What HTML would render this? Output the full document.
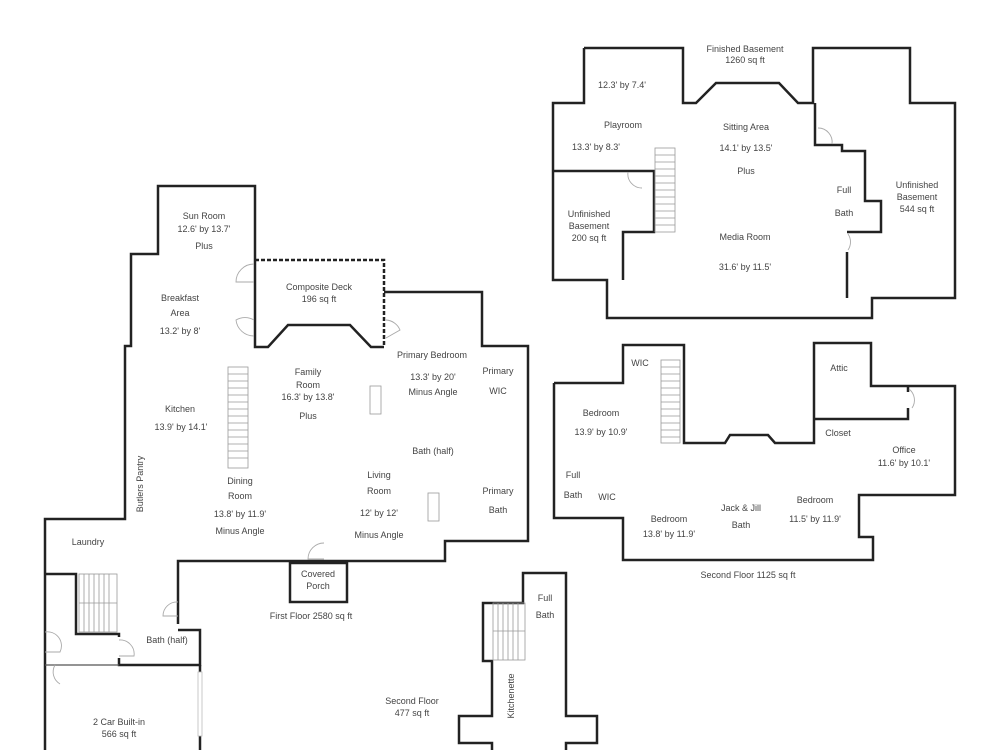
<!DOCTYPE html>
<html><head><meta charset="utf-8"><style>
html,body{margin:0;padding:0;background:#fff;}
svg{display:block;}
text{font-family:"Liberation Sans",sans-serif;font-size:9px;fill:#444;text-anchor:middle;}
.w{fill:none;stroke:#222;stroke-width:2.5;stroke-linejoin:miter;}
.t{fill:none;stroke:#999;stroke-width:0.8;}
.d{fill:none;stroke:#aaa;stroke-width:0.9;}
</style></head><body>
<svg width="1000" height="750" viewBox="0 0 1000 750" xmlns="http://www.w3.org/2000/svg">
<!-- Basement -->
<polyline class="w" points="584,48 683,48 683,103 696,103 716,83 779,83 798,103 813,103 813,48 910,48 910,103 955,103 955,298 872,298 872,318 607,318 607,280 553,280 553,103 584,103 584,48"/>
<polyline class="w" points="553,171 654,171 654,232 623,232 623,280"/>
<polyline class="w" points="815,103 815,145 842,145 842,151 865,151 865,201 881,201 881,232 847,232"/>
<polyline class="w" points="847,252 847,298"/>
<g class="t"><rect x="655" y="148" width="20" height="84"/>
<line x1="655" y1="155" x2="675" y2="155"/><line x1="655" y1="162" x2="675" y2="162"/><line x1="655" y1="169" x2="675" y2="169"/><line x1="655" y1="176" x2="675" y2="176"/><line x1="655" y1="183" x2="675" y2="183"/><line x1="655" y1="190" x2="675" y2="190"/><line x1="655" y1="197" x2="675" y2="197"/><line x1="655" y1="204" x2="675" y2="204"/><line x1="655" y1="211" x2="675" y2="211"/><line x1="655" y1="218" x2="675" y2="218"/><line x1="655" y1="225" x2="675" y2="225"/></g>
<path class="d" d="M818,128 A14,14 0 0 1 832,144"/><path class="d" d="M848,234 A14,14 0 0 1 848,250"/><path class="d" d="M628,172 A14,14 0 0 0 642,188"/>
<text x="745" y="52">Finished Basement</text><text x="745" y="63">1260 sq ft</text>
<text x="622" y="88">12.3' by 7.4'</text>
<text x="623" y="128">Playroom</text><text x="596" y="150">13.3' by 8.3'</text>
<text x="746" y="130">Sitting Area</text><text x="746" y="151">14.1' by 13.5'</text><text x="746" y="174">Plus</text>
<text x="844" y="193">Full</text><text x="844" y="216">Bath</text>
<text x="917" y="188">Unfinished</text><text x="917" y="200">Basement</text><text x="917" y="212">544 sq ft</text>
<text x="589" y="217">Unfinished</text><text x="589" y="229">Basement</text><text x="589" y="241">200 sq ft</text>
<text x="745" y="240">Media Room</text><text x="745" y="270">31.6' by 11.5'</text>
<!-- Second floor 1125 -->
<polyline class="w" points="554,383 623,383 623,345 684,345 684,443 725,443 730,435 768,435 775,443 814,443 814,343 871,343 871,386 955,386 955,495 859,495 859,537 873,537 873,560 623,560 623,518 554,518 554,383"/>
<polyline class="w" points="814,419 908,419 908,408"/><polyline class="w" points="908,387 908,392"/>
<path class="d" d="M909,389 A14,14 0 0 1 912,408"/>
<g class="t"><rect x="661" y="360" width="19" height="83"/>
<line x1="661" y1="367" x2="680" y2="367"/><line x1="661" y1="374" x2="680" y2="374"/><line x1="661" y1="381" x2="680" y2="381"/><line x1="661" y1="388" x2="680" y2="388"/><line x1="661" y1="395" x2="680" y2="395"/><line x1="661" y1="402" x2="680" y2="402"/><line x1="661" y1="409" x2="680" y2="409"/><line x1="661" y1="416" x2="680" y2="416"/><line x1="661" y1="423" x2="680" y2="423"/><line x1="661" y1="430" x2="680" y2="430"/><line x1="661" y1="437" x2="680" y2="437"/></g>
<text x="640" y="366">WIC</text><text x="839" y="371">Attic</text>
<text x="601" y="416">Bedroom</text><text x="601" y="435">13.9' by 10.9'</text>
<text x="838" y="436">Closet</text>
<text x="904" y="453">Office</text><text x="904" y="466">11.6' by 10.1'</text>
<text x="573" y="478">Full</text><text x="573" y="498">Bath</text><text x="607" y="500">WIC</text>
<text x="741" y="511">Jack &amp; Jill</text><text x="741" y="528">Bath</text>
<text x="815" y="503">Bedroom</text><text x="815" y="522">11.5' by 11.9'</text>
<text x="669" y="522">Bedroom</text><text x="669" y="537">13.8' by 11.9'</text>
<text x="748" y="578">Second Floor 1125 sq ft</text>
<!-- First floor -->
<polyline class="w" points="255,260 255,186 158,186 158,254 131,254 131,346 125,346 125,519 45,519 45,750"/>
<polyline class="w" points="255,260 255,347 268,347 288,325 350,325 371,347 384,347"/>
<path d="M255,260 L384,260 L384,347" fill="none" stroke="#222" stroke-width="2.5" stroke-dasharray="4,2"/>
<polyline class="w" points="384,292 482,292 482,346 528,346 528,541 445,541 445,561 178,561 178,624"/>
<polyline class="w" points="178,630 200,630 200,665 119,665 119,658"/>
<polyline class="w" points="200,665 200,672"/><polyline class="w" points="200,736 200,750"/>
<rect x="198" y="672" width="4" height="64" fill="none" stroke="#bbb" stroke-width="0.8"/>
<polyline class="w" points="45,574 76,574 76,634 119,634 119,637"/>
<line x1="45" y1="665" x2="119" y2="665" stroke="#555" stroke-width="1.2"/>
<rect class="w" x="290" y="563" width="57" height="39"/>
<g class="t"><rect x="228" y="367" width="20" height="101"/>
<line x1="228" y1="374" x2="248" y2="374"/><line x1="228" y1="381" x2="248" y2="381"/><line x1="228" y1="388" x2="248" y2="388"/><line x1="228" y1="395" x2="248" y2="395"/><line x1="228" y1="402" x2="248" y2="402"/><line x1="228" y1="409" x2="248" y2="409"/><line x1="228" y1="416" x2="248" y2="416"/><line x1="228" y1="423" x2="248" y2="423"/><line x1="228" y1="430" x2="248" y2="430"/><line x1="228" y1="437" x2="248" y2="437"/><line x1="228" y1="444" x2="248" y2="444"/><line x1="228" y1="451" x2="248" y2="451"/><line x1="228" y1="458" x2="248" y2="458"/>
<rect x="370" y="386" width="11" height="28"/><rect x="428" y="493" width="11" height="28"/>
<rect x="79" y="574" width="38" height="58"/>
<line x1="84" y1="574" x2="84" y2="632"/><line x1="89" y1="574" x2="89" y2="632"/><line x1="94" y1="574" x2="94" y2="632"/><line x1="99" y1="574" x2="99" y2="632"/><line x1="104" y1="574" x2="104" y2="632"/><line x1="109" y1="574" x2="109" y2="632"/><line x1="79" y1="603" x2="117" y2="603"/></g>
<path class="d" d="M254,264 A18,18 0 0 0 236,282 L254,282"/><path class="d" d="M254,320 A18,18 0 0 0 236,320 A18,18 0 0 0 254,336"/>
<path class="d" d="M386,320 A16,16 0 0 1 400,330 L386,338"/><path class="d" d="M324,543 A16,16 0 0 0 308,559 L324,559"/>
<path class="d" d="M178,602 A14,14 0 0 0 163,616 L178,616"/><path class="d" d="M119,640 A14,14 0 0 1 134,656 L119,656"/>
<path class="d" d="M45,632 A14,14 0 0 1 60,652 L45,652"/><path class="d" d="M55,665 A14,14 0 0 0 60,684"/>
<text x="204" y="219">Sun Room</text><text x="204" y="232">12.6' by 13.7'</text><text x="204" y="249">Plus</text>
<text x="319" y="290">Composite Deck</text><text x="319" y="302">196 sq ft</text>
<text x="180" y="301">Breakfast</text><text x="180" y="316">Area</text><text x="180" y="334">13.2' by 8'</text>
<text x="432" y="358">Primary Bedroom</text><text x="433" y="380">13.3' by 20'</text><text x="433" y="395">Minus Angle</text>
<text x="498" y="374">Primary</text><text x="498" y="394">WIC</text>
<text x="308" y="375">Family</text><text x="308" y="388">Room</text><text x="308" y="400">16.3' by 13.8'</text><text x="308" y="419">Plus</text>
<text x="180" y="412">Kitchen</text><text x="181" y="430">13.9' by 14.1'</text>
<text x="433" y="454">Bath (half)</text>
<text x="240" y="484">Dining</text><text x="240" y="499">Room</text><text x="240" y="517">13.8' by 11.9'</text><text x="240" y="534">Minus Angle</text>
<text x="379" y="478">Living</text><text x="379" y="494">Room</text><text x="379" y="516">12' by 12'</text><text x="379" y="538">Minus Angle</text>
<text x="498" y="494">Primary</text><text x="498" y="513">Bath</text>
<text transform="translate(143,484) rotate(-90)">Butlers Pantry</text>
<text x="88" y="545">Laundry</text>
<text x="318" y="577">Covered</text><text x="318" y="589">Porch</text>
<text x="311" y="619">First Floor 2580 sq ft</text>
<text x="167" y="643">Bath (half)</text>
<text x="119" y="725">2 Car Built-in</text><text x="119" y="737">566 sq ft</text>
<!-- Second floor 477 -->
<polyline class="w" points="492,750 492,743 459,743 459,716 492,716 492,661 483,661 483,603 523,603 523,573 566,573 566,716 597,716 597,743 566,743 566,750"/>
<g class="t"><rect x="493" y="603" width="32" height="57"/>
<line x1="498" y1="603" x2="498" y2="660"/><line x1="503" y1="603" x2="503" y2="660"/><line x1="508" y1="603" x2="508" y2="660"/><line x1="513" y1="603" x2="513" y2="660"/><line x1="518" y1="603" x2="518" y2="660"/><line x1="493" y1="631" x2="525" y2="631"/></g>
<text x="545" y="601">Full</text><text x="545" y="618">Bath</text>
<text transform="translate(514,696) rotate(-90)">Kitchenette</text>
<text x="412" y="704">Second Floor</text><text x="412" y="716">477 sq ft</text>
</svg>
</body></html>
